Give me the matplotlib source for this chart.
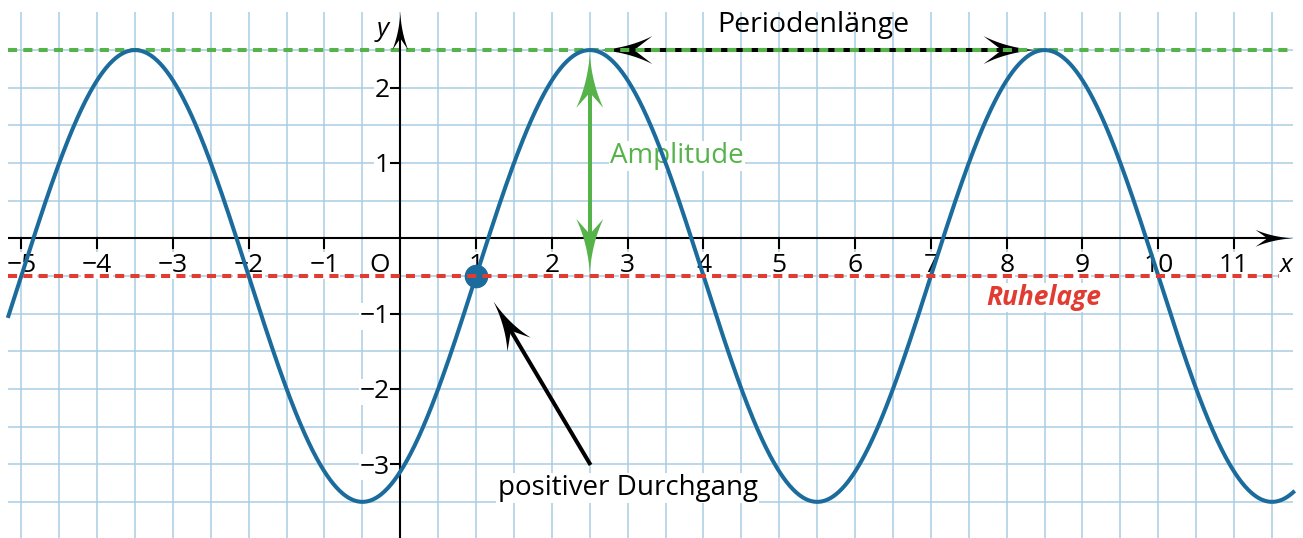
import numpy as np
import matplotlib
matplotlib.use("Agg")
import matplotlib.pyplot as plt
from matplotlib.patches import Polygon

plt.rcParams["font.family"] = ["Open Sans", "DejaVu Sans"]

# ---- data -------------------------------------------------------------
AMPLITUDE = 3.0      # Amplitude
PERIOD = 6.0         # Periodenlänge
ZERO_X = 1.0         # positiver Durchgang
REST = -0.5          # Ruhelage

x_ticks = [-5, -4, -3, -2, -1, 1, 2, 3, 4, 5, 6, 7, 8, 9, 10, 11]
y_ticks = [-3, -2, -1, 1, 2]

X_MIN, X_MAX = -5.17, 11.78     # drawn range of the graph paper
Y_MIN, Y_MAX = -3.98, 3.0

# ---- colours ----------------------------------------------------------
BLUE = "#1b6c9c"
GREEN = "#55b34a"
RED = "#e03c31"
GRID = "#a9cde3"

FS = 19   # tick labels


def head(ax, tip, u, color, hl, hw, notch=0.68, zorder=5):
    """stealth-like arrow head; tip in pixels, u unit vector (pixels)"""
    n = np.array([-u[1], u[0]])
    t = np.asarray(tip)
    pts = []
    for s in (1, -1):
        corner = t - u * hl + s * n * hw / 2
        ctrl = t - u * hl * 0.55 + s * n * hw * 0.08
        side = [(1 - k) ** 2 * t + 2 * (1 - k) * k * ctrl + k ** 2 * corner
                for k in np.linspace(0, 1, 12)]
        if s == 1:
            pts += side
            pts.append(t - u * hl * notch)
        else:
            pts += side[::-1]
    data = ax.transData.inverted().transform(np.array(pts))
    ax.add_patch(Polygon(data, closed=True, facecolor=color,
                         edgecolor="none", zorder=zorder))


def arrow(ax, p0, p1, color, lw, hl, hw, both=False, notch=0.68, zorder=5):
    T = ax.transData
    P0, P1 = T.transform(p0), T.transform(p1)
    u = (P1 - P0) / np.hypot(*(P1 - P0))
    a = P0 + u * hl * (notch - 0.05) if both else P0
    b = P1 - u * hl * (notch - 0.05)
    line = T.inverted().transform(np.array([a, b]))
    ax.plot(line[:, 0], line[:, 1], color=color, lw=lw,
            solid_capstyle="butt", zorder=zorder)
    head(ax, P1, u, color, hl, hw, notch, zorder)
    if both:
        head(ax, P0, -u, color, hl, hw, notch, zorder)


fig = plt.figure(figsize=(13.03, 5.38), dpi=100)
ax = fig.add_axes([0, 0, 1, 1])
ax.set_xlim(-5.281, 11.909)
ax.set_ylim(-3.980, 3.165)
ax.axis("off")

# Karopapier
ax.vlines(np.arange(-5, 11.51, 0.5), Y_MIN, Y_MAX, color=GRID, lw=1.1, zorder=1)
ax.hlines(np.arange(-3.5, 2.51, 0.5), X_MIN, X_MAX, color=GRID, lw=1.1, zorder=1)

# Achsen
arrow(ax, (X_MIN, 0), (11.77, 0), "black", 1.5, 37, 17, zorder=2.5)
arrow(ax, (0, Y_MIN), (0, 2.99), "black", 1.5, 37, 16, zorder=2.5)
for t in x_ticks:
    ax.plot([t, t], [0, -0.13], color="black", lw=1.5, zorder=2.5)
    ax.text(t, -0.445, str(t).replace("-", "\u2212"), ha="center",
            va="baseline", fontsize=FS, zorder=1.5,
            bbox=dict(fc="white", ec="none", pad=0.5))
for t in y_ticks:
    ax.plot([-0.12, 0], [t, t], color="black", lw=1.5, zorder=2.5)
    ax.text(-0.135, t - 0.125, str(t).replace("-", "\u2212"), ha="right",
            va="baseline", fontsize=FS, zorder=1.5,
            bbox=dict(fc="white", ec="none", pad=0.5))
ax.text(-0.27, -0.445, "O", ha="center", va="baseline", fontsize=FS,
        zorder=1.5, bbox=dict(fc="white", ec="none", pad=0.5))
ax.text(11.69, -0.45, "x", ha="center", va="baseline", fontsize=FS,
        style="italic", zorder=6, bbox=dict(fc="white", ec="none", pad=0.5))
ax.text(-0.23, 2.69, "y", ha="center", va="baseline", fontsize=FS,
        style="italic", zorder=6)

# Sinuskurve
xs = np.linspace(X_MIN, X_MAX, 1200)
ys = REST + AMPLITUDE * np.sin(2 * np.pi / PERIOD * (xs - ZERO_X))
ax.plot(xs, ys, color=BLUE, lw=2.9, zorder=3)

peak_x = ZERO_X + PERIOD / 4
peak_y = REST + AMPLITUDE

# Periodenlänge (schwarzer Doppelpfeil unter der grünen Linie)
arrow(ax, (peak_x + 0.14, peak_y), (peak_x + PERIOD - 0.12, peak_y), "black",
      2.9, 52, 28, both=True, notch=0.65, zorder=1.8)
ax.text(peak_x + PERIOD / 2 - 0.05, 2.74, "Periodenlänge", ha="center",
        va="baseline", fontsize=20.5, zorder=6)

# Hilfslinien
dash = (0, (2.25, 1.55))
ax.plot([X_MIN, X_MAX], [peak_y, peak_y], color=GREEN, lw=2.9,
        linestyle=dash, zorder=2)
ax.plot([X_MIN, X_MAX], [REST, REST], color=RED, lw=2.9,
        linestyle=dash, zorder=5)

# Amplitude
arrow(ax, (peak_x, REST + 0.04), (peak_x, peak_y - 0.05), GREEN, 2.9, 54, 27,
      both=True, notch=0.72, zorder=3.5)
ax.text(2.77, 1.0, "Amplitude", ha="left", va="baseline", fontsize=20,
        color=GREEN, zorder=2.2, bbox=dict(fc="white", ec="none", pad=1))

# positiver Durchgang
ax.plot([ZERO_X], [REST], "o", color=BLUE, ms=16, zorder=4)
arrow(ax, (2.51, -3.01), (1.23, -0.84), "black", 2.9, 50, 27,
      notch=0.68, zorder=5)
ax.text(3.0, -3.41, "positiver Durchgang", ha="center", va="baseline",
        fontsize=20, zorder=2.2, bbox=dict(fc="white", ec="none", pad=1))

# Ruhelage
ax.text(8.49, -0.885, "Ruhelage", ha="center", va="baseline", fontsize=19,
        color=RED, style="italic", fontweight="bold", zorder=2.2,
        bbox=dict(fc="white", ec="none", pad=1))

fig.savefig("out.png", dpi=100)
